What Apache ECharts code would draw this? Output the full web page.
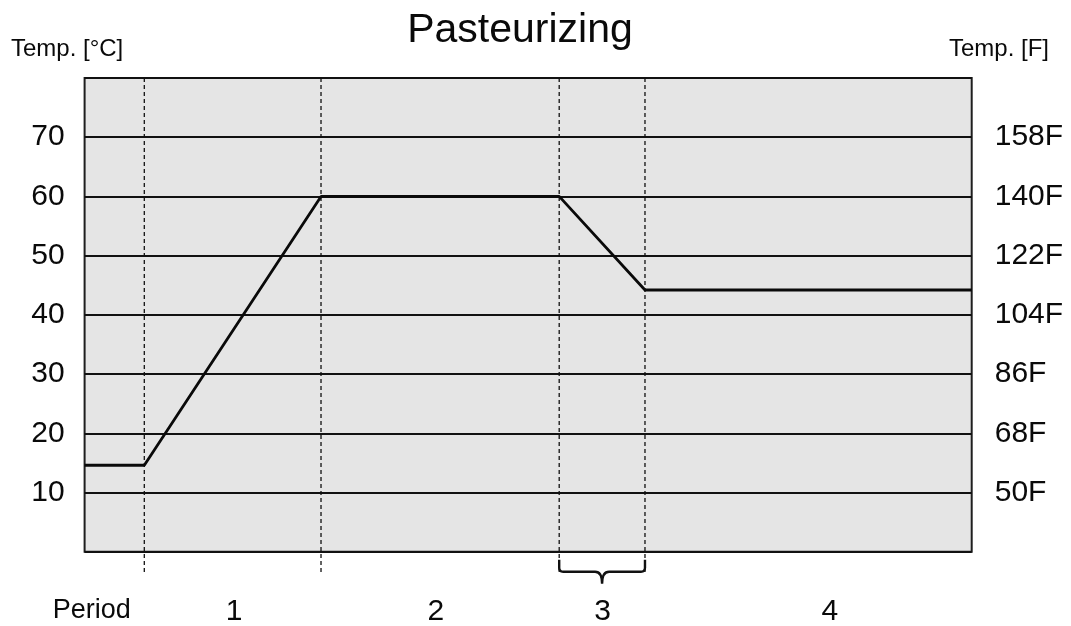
<!DOCTYPE html>
<html>
<head>
<meta charset="utf-8">
<script src="https://cdn.jsdelivr.net/npm/echarts@6/dist/echarts.min.js"></script>
<style>html,body{margin:0;padding:0;background:#fff;}#chart{width:1071px;height:626px;}</style>
</head>
<body>
<div id="chart"></div>
<script>
// ---- data ----
const timeX = [0, 6.73, 26.65, 53.5, 63.17, 100];
const tempC = [14.6, 14.6, 60, 60, 44.2, 44.2];
const dividers = [6.73, 26.65, 53.5, 63.17];
const braceSpan = [53.5, 63.17];
const periodLabels = ['Period', '1', '2', '3', '4'];
const periodLabelX = [0.8, 16.84, 39.6, 58.4, 84.0];
const tempCTicks = [10, 20, 30, 40, 50, 60, 70];
const tempFTicks = ['50F', '68F', '86F', '104F', '122F', '140F', '158F'];

const FONT = '"Liberation Sans", Arial, sans-serif';
const INK = '#0a0a0a';

const chart = echarts.init(document.getElementById('chart'), null, {renderer: 'canvas'});

const lineData = timeX.map((x, i) => [x, tempC[i]]);

chart.setOption({
  animation: false,
  backgroundColor: '#fff',
  grid: {
    left: 84.6, right: 99.3, top: 78, bottom: 74.3,
    show: true, backgroundColor: '#e5e5e5', borderColor: '#1e1e1e', borderWidth: 2
  },
  xAxis: {
    type: 'value', min: 0, max: 100,
    axisLine: {show: false}, axisTick: {show: false}, axisLabel: {show: false}, splitLine: {show: false}
  },
  yAxis: [
    {
      type: 'value', min: 0, max: 80, interval: 10, position: 'left',
      axisLine: {show: false}, axisTick: {show: false},
      splitLine: {show: true, lineStyle: {color: '#111', width: 1.8}},
      axisLabel: {
        margin: 20, fontSize: 30, color: INK, fontFamily: FONT,
        formatter: v => tempCTicks.indexOf(v) >= 0 ? String(v) : ''
      }
    },
    {
      type: 'value', min: 0, max: 80, interval: 10, position: 'right',
      axisLine: {show: false}, axisTick: {show: false}, splitLine: {show: false},
      axisLabel: {
        margin: 23, fontSize: 30, color: INK, fontFamily: FONT,
        formatter: v => { const i = tempCTicks.indexOf(v); return i >= 0 ? tempFTicks[i] : ''; }
      }
    }
  ],
  graphic: [
    {type: 'text', x: 520, y: 30.6, style: {text: 'Pasteurizing', font: '41px ' + FONT, fill: INK, align: 'center', verticalAlign: 'middle'}},
    {type: 'text', x: 11, y: 49.5, style: {text: 'Temp. [°C]', font: '24px ' + FONT, fill: INK, align: 'left', verticalAlign: 'middle'}},
    {type: 'text', x: 1049, y: 49.5, style: {text: 'Temp. [F]', font: '24px ' + FONT, fill: INK, align: 'right', verticalAlign: 'middle'}}
  ],
  series: [
    {
      type: 'custom', name: 'dividers', coordinateSystem: 'cartesian2d', silent: true, z: 3,
      data: dividers.map(x => [x]),
      renderItem: (params, api) => {
        const x = api.value(0);
        const top = api.coord([x, 80]);
        const bot = api.coord([x, 0]);
        return {
          type: 'line',
          shape: {x1: top[0], y1: top[1], x2: bot[0], y2: bot[1] + 23},
          style: {stroke: '#111', lineWidth: 1.3, lineDash: [4, 3]}
        };
      }
    },
    {
      type: 'custom', name: 'brace', coordinateSystem: 'cartesian2d', silent: true, z: 3,
      data: [braceSpan],
      renderItem: (params, api) => {
        const a = api.coord([api.value(0), 0]);
        const b = api.coord([api.value(1), 0]);
        const x1 = a[0], x2 = b[0], y0 = a[1] + 8, yh = a[1] + 20, xm = (x1 + x2) / 2;
        const r = 4;
        const d = `M${x1} ${y0} L${x1} ${yh - r} Q${x1} ${yh} ${x1 + r} ${yh} L${xm - 7} ${yh} ` +
                  `Q${xm} ${yh} ${xm} ${yh + 12} Q${xm} ${yh} ${xm + 7} ${yh} L${x2 - r} ${yh} ` +
                  `Q${x2} ${yh} ${x2} ${yh - r} L${x2} ${y0}`;
        return {type: 'path', shape: {pathData: d}, style: {stroke: '#111', lineWidth: 2.4, fill: null}};
      }
    },
    {
      type: 'custom', name: 'periods', coordinateSystem: 'cartesian2d', silent: true, z: 3,
      data: periodLabelX.map((x, i) => [x, i]),
      renderItem: (params, api) => {
        const i = api.value(1);
        const p = api.coord([api.value(0), 0]);
        const isWord = i === 0;
        return {
          type: 'text',
          style: {
            x: p[0], y: p[1] + (isWord ? 58.5 : 60.5),
            text: periodLabels[i], font: (isWord ? '27px ' : '30px ') + FONT,
            fill: INK, align: 'center', verticalAlign: 'middle'
          }
        };
      }
    },
    {
      type: 'line', name: 'Temperature', data: lineData, symbol: 'none', z: 4,
      lineStyle: {color: '#0a0a0a', width: 2.8}
    }
  ]
});
</script>
</body>
</html>
